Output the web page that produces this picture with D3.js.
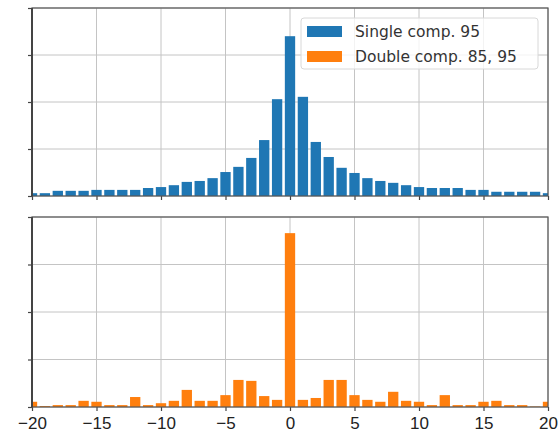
<!DOCTYPE html>
<html>
<head>
<meta charset="utf-8">
<script src="https://cdn.jsdelivr.net/npm/d3@7"></script>
<style>
  body { margin: 0; background: #fff; }
  svg { display: block; font-family: "DejaVu Sans", sans-serif; }
</style>
</head>
<body>
<div id="chart"></div>
<script>
// bins -20..20, heights
let bins = d3.range(-20, 21);
let single = [0.06, 0.06, 0.11, 0.11, 0.11, 0.13, 0.13, 0.13, 0.13, 0.17,
              0.19, 0.23, 0.30, 0.32, 0.38, 0.51, 0.62, 0.81, 1.19, 2.06,
              3.40,
              2.11, 1.15, 0.83, 0.60, 0.49, 0.38, 0.32, 0.28, 0.23, 0.19,
              0.17, 0.17, 0.17, 0.13, 0.13, 0.09, 0.09, 0.09, 0.09, 0.06];
let double = [0.11, 0.02, 0.04, 0.04, 0.13, 0.11, 0.04, 0.04, 0.21, 0.04,
              0.08, 0.13, 0.36, 0.13, 0.13, 0.25, 0.57, 0.55, 0.23, 0.15,
              3.66,
              0.15, 0.19, 0.57, 0.57, 0.25, 0.15, 0.11, 0.32, 0.13, 0.11,
              0.04, 0.25, 0.04, 0.04, 0.11, 0.13, 0.04, 0.04, 0.01, 0.11];
let xTicks = [-20, -15, -10, -5, 0, 5, 10, 15, 20];
let yTicks = [0, 1, 2, 3, 4];
let legendLabels = ["Single comp. 95", "Double comp. 85, 95"];
let colors = ["#1f77b4", "#ff7f0e"];

let width = 560, height = 435;
let left = 32, right = 548;

let svg = d3.select("#chart").append("svg")
    .attr("width", width)
    .attr("height", height);

let x = d3.scaleLinear().domain([-20, 20]).range([left, right]);

let panels = [
    {values: single, color: colors[0], top: 8, bottom: 196, labels: false},
    {values: double, color: colors[1], top: 217, bottom: 407, labels: true}
];

panels.forEach(function(p, k) {
    let y = d3.scaleLinear().domain([0, 4]).range([p.bottom, p.top]);
    let g = svg.append("g");

    g.append("clipPath").attr("id", "clip" + k)
        .append("rect")
        .attr("x", left).attr("y", p.top)
        .attr("width", right - left).attr("height", p.bottom - p.top);

    // grid
    g.append("g").selectAll("line.vg").data(xTicks).enter().append("line")
        .attr("x1", d => x(d)).attr("x2", d => x(d))
        .attr("y1", p.top).attr("y2", p.bottom)
        .attr("stroke", "#c4c4c4").attr("stroke-width", 1);
    g.append("g").selectAll("line.hg").data(yTicks).enter().append("line")
        .attr("x1", left).attr("x2", right)
        .attr("y1", d => y(d)).attr("y2", d => y(d))
        .attr("stroke", "#c4c4c4").attr("stroke-width", 1);

    // bars
    let bw = x(0.8) - x(0);
    g.append("g").attr("clip-path", "url(#clip" + k + ")")
        .selectAll("rect").data(p.values).enter().append("rect")
        .attr("x", (d, i) => x(bins[i]) - bw / 2)
        .attr("width", bw)
        .attr("y", d => y(d))
        .attr("height", d => y(0) - y(d))
        .attr("fill", p.color);

    // axes
    let xa = d3.axisBottom(x).tickValues(xTicks).tickSize(4).tickSizeOuter(0)
        .tickFormat(p.labels ? (d => d < 0 ? "\u2212" + Math.abs(d) : d) : "");
    let xg = g.append("g").attr("transform", "translate(0," + p.bottom + ")").call(xa);
    xg.select(".domain").remove();
    xg.selectAll(".tick line").attr("stroke", "#444").attr("stroke-width", 1.2);
    xg.selectAll("text").attr("fill", "#222").style("font-size", "17px").attr("dy", "0.9em");

    let ya = d3.axisLeft(y).tickValues(yTicks).tickSize(4).tickFormat("");
    let yg = g.append("g").attr("transform", "translate(" + left + ",0)").call(ya);
    yg.select(".domain").remove();
    yg.selectAll(".tick line").attr("stroke", "#444").attr("stroke-width", 1.2);

    // frame
    g.append("rect")
        .attr("x", left).attr("y", p.top)
        .attr("width", right - left).attr("height", p.bottom - p.top)
        .attr("fill", "none").attr("stroke", "#555").attr("stroke-width", 1.2);
    g.append("line")
        .attr("x1", left).attr("x2", left).attr("y1", p.top).attr("y2", p.bottom)
        .attr("stroke", "#444").attr("stroke-width", 2);
});

// legend
let lg = svg.append("g").attr("transform", "translate(301,18)");
lg.append("rect").attr("width", 237).attr("height", 51).attr("rx", 3)
    .attr("fill", "#fff").attr("fill-opacity", 0.8)
    .attr("stroke", "#d8d8d8");
legendLabels.forEach(function(t, i) {
    lg.append("rect").attr("x", 6).attr("y", 8 + i * 25)
        .attr("width", 35).attr("height", 11).attr("fill", colors[i]);
    lg.append("text").attr("x", 54).attr("y", 14 + i * 25)
        .attr("dy", "0.35em").attr("fill", "#333")
        .style("font-size", "15.5px").text(t);
});
</script>
</body>
</html>
